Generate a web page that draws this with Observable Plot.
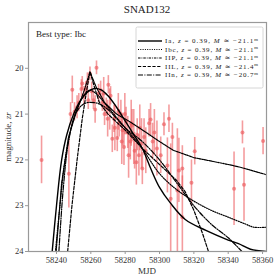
<!DOCTYPE html>
<html><head><meta charset="utf-8">
<script src="https://cdn.jsdelivr.net/npm/d3@7"></script>
<script src="https://cdn.jsdelivr.net/npm/@observablehq/plot@0.6"></script>
<style>
html,body{margin:0;padding:0;background:#fff;}
#chart{position:relative;width:280px;height:280px;}
</style>
</head><body><div id="chart"></div>
<script>
const title = "SNAD132";
const bestType = "Best type: Ibc";
const xTicks = [58240, 58260, 58280, 58300, 58320, 58340, 58360];
const yTicks = [20, 21, 22, 23, 24];

// observations: mjd, magnitude, error
const obsMjd = [58231.3,58247.2,58248.2,58249.2,58250.5,58252,58253,58254.5,58255,58256,58257,58258,58258.5,58259.5,58260.5,58261.5,58262.5,58263.3,58264.5,58265.7,58266.7,58267.5,58268,58269,58269.8,58270.2,58271,58271.5,58272.5,58273.5,58274,58275.4,58276,58276.5,58277.5,58278,58278.5,58279.3,58279.8,58280.5,58281.5,58282,58283,58283.5,58284,58285,58285.5,58286.5,58287,58288,58288.5,58289.5,58290,58291,58292,58293.9,58294.8,58296,58297,58298.5,58300.7,58302.6,58304.6,58305.5,58306.5,58307.5,58310.4,58311.3,58313.3,58313.3,58318.6,58320.5,58343.4,58348.3,58349.2,58360.3];
const obsMag = [22.0,22.3,21.0,20.47,20.95,20.85,20.75,20.45,20.33,20.6,20.45,20.3,20.7,20.12,20.5,20.7,20.9,19.99,20.55,20.48,20.74,20.55,21.0,20.85,21.1,20.36,20.9,20.6,21.54,21.1,21.3,21.52,20.95,21.2,21.0,21.6,21.35,21.72,21.0,21.15,21.4,21.9,21.6,21.2,21.25,21.5,21.8,22.05,21.45,21.9,21.3,21.65,22.19,21.5,21.8,21.2,21.12,21.6,21.4,21.75,21.9,21.22,22.12,21.1,22.85,21.5,22.67,22.23,22.19,23.25,22.5,21.81,22.63,21.4,22.54,21.59];
const obsErr = [0.52,0.75,0.25,0.3,0.2,0.25,0.2,0.2,0.15,0.2,0.15,0.2,0.2,0.15,0.2,0.2,0.3,0.15,0.2,0.2,0.2,0.35,0.25,0.2,0.4,0.2,0.45,0.2,0.3,0.3,0.5,0.3,0.4,0.3,0.3,0.5,0.35,0.4,0.45,0.3,0.35,0.5,0.4,0.5,0.35,0.6,0.4,0.5,0.35,0.45,0.5,0.55,0.35,0.4,0.5,0.3,0.35,0.4,0.5,0.6,0.4,0.25,0.6,0.3,1.2,0.3,1.35,0.7,0.5,0.9,0.5,0.3,0.8,0.25,0.8,0.3];

// model curves (mjd, mag)
const iaMjd = [58237.5,58240,58243,58246,58250,58254,58258,58262,58266,58270,58275,58280,58285,58290,58295,58300,58306.5,58315,58327,58340,58346,58353,58362];
const iaMag = [24.0,23.0,22.0,21.45,21.0,20.7,20.52,20.44,20.47,20.6,20.85,21.15,21.45,21.75,22.2,22.6,22.95,23.3,23.54,23.75,23.83,23.95,24.0];
const ibcMjd = [58239.4,58242,58245,58250,58255,58259,58263,58270,58280,58289,58300,58310,58320,58330,58340,58350,58355,58362];
const ibcMag = [24.0,23.0,22.0,21.1,20.65,20.48,20.55,20.85,21.3,21.7,22.3,22.65,22.9,23.1,23.25,23.4,23.47,23.47];
const iipMjd = [58239.8,58243,58247,58252,58256,58259.5,58263,58268,58275,58282,58289,58300,58308,58320,58328,58340,58347,58362];
const iipMag = [24.0,22.5,21.5,20.9,20.5,20.08,20.4,20.75,21.0,21.15,21.32,21.6,21.79,21.95,22.01,22.1,22.16,22.32];
const iilMjd = [58246.5,58249,58252,58255,58257.5,58259.5,58262,58265,58270,58280,58290,58300,58310,58315,58320,58325,58328.5];
const iilMag = [24.0,23.0,22.0,21.1,20.5,20.07,20.4,20.75,21.0,21.35,21.75,22.1,22.45,22.7,23.1,23.6,24.0];
const iinMjd = [58241.4,58244,58247,58251,58255,58258,58262,58265,58270,58280,58290,58300,58310,58320,58330,58340,58348];
const iinMag = [24.0,22.6,21.6,21.0,20.8,20.75,20.75,20.78,20.9,21.3,21.6,22.0,22.5,23.0,23.4,23.7,24.0];

const legendLabels = [
  ["Ia", "0.39", "\u221221.1"],
  ["Ibc", "0.39", "\u221221.1"],
  ["IIP", "0.39", "\u221221.1"],
  ["IIL", "0.39", "\u221221.4"],
  ["IIn", "0.39", "\u221220.7"]
];
const dashes = [null, "1,1.3", "2.5,1,0.8,1", "3.2,1.6", "5,1.4,1,1.4"];

const obs = obsMjd.map((m,i)=>({mjd:m, mag:obsMag[i], lo:obsMag[i]-obsErr[i], hi:obsMag[i]+obsErr[i]}));
const mk = (xs, ys) => xs.map((x,i)=>({mjd:x, mag:ys[i]}));
const curves = [mk(iaMjd,iaMag), mk(ibcMjd,ibcMag), mk(iipMjd,iipMag), mk(iilMjd,iilMag), mk(iinMjd,iinMag)];
const curveTypes = ["catmull-rom","catmull-rom","linear","linear","catmull-rom"];

const font = "'Liberation Serif', 'DejaVu Serif', serif";
const red = "#ec5a5e";
const fmt = d => String(d);

const plot = Plot.plot({
  width: 280, height: 280,
  marginLeft: 28, marginRight: 14, marginTop: 22, marginBottom: 29,
  style: {fontFamily: font, fontSize: "8.5px", color: "#333", background: "#fff"},
  x: {domain: [58223.7, 58362.3], label: null},
  y: {domain: [19, 24], reverse: true, label: null},
  marks: [
    Plot.ruleX(obs, {x: "mjd", y1: "lo", y2: "hi", stroke: red, strokeWidth: 1.6, strokeOpacity: 0.6, clip: true}),
    Plot.dot(obs, {x: "mjd", y: "mag", r: 2, fill: red, fillOpacity: 0.65, stroke: "none", clip: true}),
    ...curves.map((c,i)=>Plot.line(c, {x: "mjd", y: "mag", stroke: "#000", strokeWidth: i===0?1.4:1.2, strokeDasharray: dashes[i], curve: curveTypes[i], clip: true})),
    Plot.frame({stroke: "#999", strokeWidth: 1.2}),
    Plot.axisX({ticks: xTicks, tickFormat: fmt, tickSize: 3, stroke: "#999", fill: "#333", tickPadding: 2, label: null}),
    Plot.axisY({ticks: yTicks, tickFormat: fmt, tickSize: 3, stroke: "#999", fill: "#333", tickPadding: 2, label: null})
  ]
});
document.getElementById("chart").appendChild(plot);

const svg = d3.select(plot);
// title
svg.append("text").attr("x", 147).attr("y", 13).attr("text-anchor","middle")
  .style("font-family", font).style("font-size","11px").attr("fill","#222").text(title);
// x label
svg.append("text").attr("x", 147).attr("y", 274).attr("text-anchor","middle")
  .style("font-family", font).style("font-size","9px").attr("fill","#333").text("MJD");
// y label
const yl = svg.append("text").attr("transform","translate(11,137) rotate(-90)").attr("text-anchor","middle")
  .style("font-family", font).style("font-size","9px").attr("fill","#333");
yl.append("tspan").text("magnitude, ");
yl.append("tspan").style("font-style","italic").text("zr");
// best type
svg.append("text").attr("x", 36).attr("y", 37).attr("text-anchor","start")
  .style("font-family", font).style("font-size","9px").attr("fill","#222").text(bestType);
// legend
const lg = svg.append("g").attr("text-anchor","start");
lg.append("rect").attr("x",136).attr("y",27).attr("width",127).attr("height",61)
  .attr("fill","#fff").attr("fill-opacity",0.85).attr("stroke","#ccc").attr("stroke-width",0.8).attr("rx",1.5);
legendLabels.forEach((l,i)=>{
  const yy = 41 + i*8.5;
  const ln = lg.append("line").attr("x1",138).attr("x2",162).attr("y1",yy).attr("y2",yy)
    .attr("stroke","#000").attr("stroke-width", i===0?1.4:1.2);
  if (dashes[i]) ln.attr("stroke-dasharray", dashes[i]);
  const t = lg.append("text").attr("x",165).attr("y",yy+2.3).attr("text-anchor","start")
    .attr("textLength", 93).attr("lengthAdjust","spacing")
    .style("font-family", font).style("font-size","7px").attr("fill","#222");
  t.append("tspan").text(l[0] + ", ");
  t.append("tspan").style("font-style","italic").text("z");
  t.append("tspan").text(" = " + l[1] + ", ");
  t.append("tspan").style("font-style","italic").text("M");
  t.append("tspan").text(" \u2243 " + l[2]);
  t.append("tspan").attr("dy",-2.6).style("font-size","4.8px").text("m");
});
</script></body></html>
